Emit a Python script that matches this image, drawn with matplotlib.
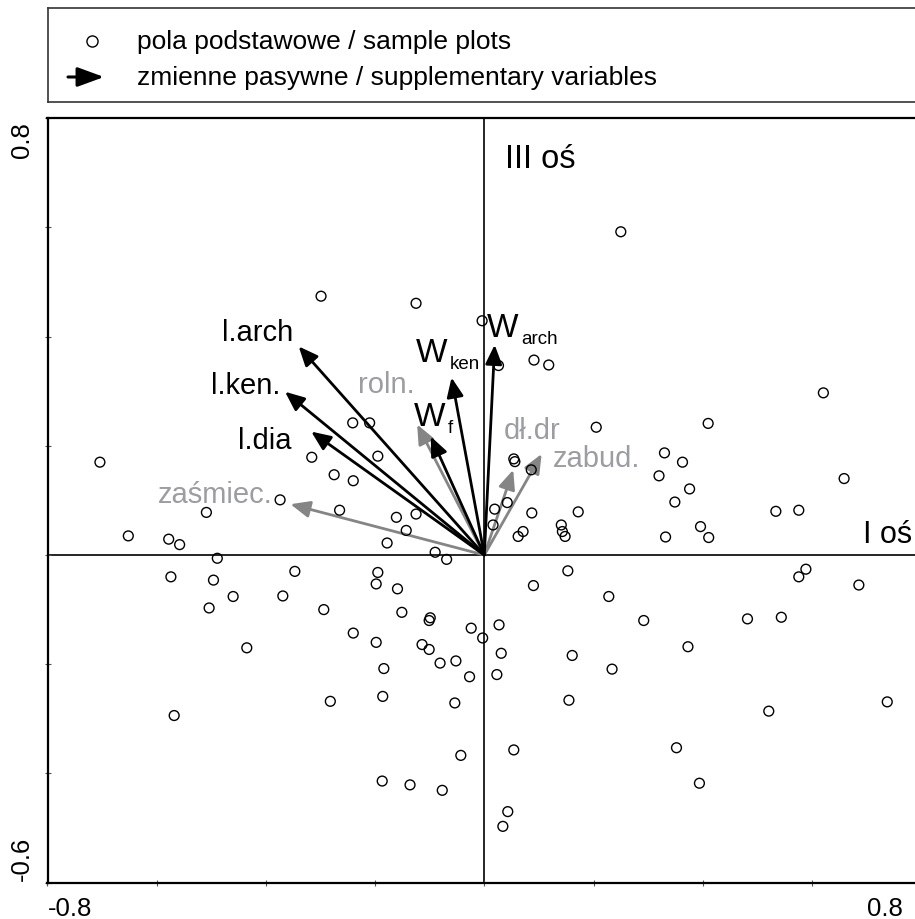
import numpy as np
import matplotlib.pyplot as plt

plt.rcParams['font.family'] = ['Liberation Sans', 'DejaVu Sans']

# sample plots: axis I (x) and axis III (y) scores
plot_x = [-0.299, -0.125, -0.004, -0.704, -0.241, -0.210, -0.316, -0.195, -0.275, -0.240,
          -0.374, -0.509, -0.265, -0.161, -0.125, -0.143, -0.652, -0.578, -0.558, -0.178,
          -0.090, -0.069, -0.489, -0.574, -0.496, -0.347, -0.460, -0.369, -0.504, -0.294,
          -0.195, -0.198, -0.159, -0.151, -0.099, -0.101, -0.024, -0.003, -0.435, -0.240,
          -0.198, -0.114, -0.101, -0.052, -0.081, -0.184, -0.027, -0.568, -0.282, -0.186,
          -0.054, -0.043, -0.187, -0.136, -0.077,
          0.250, 0.026, 0.091, 0.118, 0.621, 0.205, 0.410, 0.054, 0.056, 0.086,
          0.330, 0.363, 0.320, 0.376, 0.349, 0.659, 0.534, 0.576, 0.019, 0.042,
          0.087, 0.172, 0.016, 0.071, 0.062, 0.141, 0.143, 0.148, 0.332, 0.396,
          0.411, 0.153, 0.090, 0.228, 0.027, 0.292, 0.031, 0.161, 0.023, 0.234,
          0.373, 0.155, 0.054, 0.352, 0.394, 0.043, 0.034, 0.576, 0.589, 0.686,
          0.482, 0.544, 0.521, 0.738]
plot_y = [0.474, 0.461, 0.429, 0.170, 0.242, 0.242, 0.179, 0.181, 0.147, 0.136,
          0.101, 0.078, 0.082, 0.069, 0.075, 0.045, 0.035, 0.029, 0.019, 0.022,
          0.005, -0.008, -0.006, -0.040, -0.046, -0.030, -0.076, -0.075, -0.097, -0.100,
          -0.032, -0.053, -0.062, -0.105, -0.115, -0.120, -0.134, -0.152, -0.170, -0.143,
          -0.160, -0.164, -0.173, -0.194, -0.198, -0.208, -0.223, -0.294, -0.268, -0.259,
          -0.271, -0.367, -0.414, -0.421, -0.431,
          0.592, 0.347, 0.357, 0.348, 0.297, 0.234, 0.241, 0.176, 0.171, 0.156,
          0.187, 0.170, 0.145, 0.121, 0.097, 0.140, 0.080, 0.082, 0.084, 0.096,
          0.077, 0.079, 0.055, 0.043, 0.034, 0.055, 0.043, 0.034, 0.033, 0.052,
          0.032, -0.029, -0.056, -0.076, -0.128, -0.120, -0.180, -0.184, -0.219, -0.209,
          -0.168, -0.266, -0.357, -0.353, -0.418, -0.470, -0.497, -0.040, -0.026, -0.055,
          -0.117, -0.114, -0.286, -0.269]

# supplementary variables drawn in black
black_names = ['l.arch', 'l.ken.', 'l.dia', 'W_f', 'W_ken', 'W_arch']
black_x = [-0.340, -0.365, -0.317, -0.098, -0.060, 0.019]
black_y = [0.382, 0.299, 0.226, 0.217, 0.325, 0.385]

# supplementary variables drawn in grey
grey_names = ['zaśmiec.', 'roln.', 'dł.dr', 'zabud.']
grey_x = [-0.355, -0.123, 0.053, 0.105]
grey_y = [0.093, 0.239, 0.156, 0.185]

x_ticks = [-0.8, -0.6, -0.4, -0.2, 0.0, 0.2, 0.4, 0.6, 0.8]
y_ticks = [-0.6, -0.4, -0.2, 0.0, 0.2, 0.4, 0.6, 0.8]

# label offsets from arrow tips (points) and alignment
label_style = {
    'l.arch': (-4, 4.5, 'right'),
    'l.ken.': (-3, -1, 'right'),
    'l.dia': (-14.5, -12, 'right'),
    'zaśmiec.': (-13, 1.5, 'right'),
    'roln.': (-1.5, 23.5, 'right'),
    'W_f': (-12, 8.5, 'left'),
    'W_ken': (-26, 12, 'left'),
    'W_arch': (-5.5, 6.5, 'left'),
    'dł.dr': (-6.5, 23, 'left'),
    'zabud.': (8, -8.5, 'left'),
}

BLACK = '#000000'
GREY_ARROW = '#858585'
GREY_TEXT = '#9b9da2'

fig = plt.figure(figsize=(9.15, 9.2), dpi=100)
ax = fig.add_axes([47.5 / 915, 36.4 / 920, 873.6 / 915, 764.4 / 920])
ax.set_xlim(-0.8, 0.8)
ax.set_ylim(-0.6, 0.8)

ax.axhline(0, color='black', lw=1.2, zorder=1)
ax.axvline(0, color='black', lw=1.2, zorder=1)


def draw_arrow(x, y, color):
    ax.annotate('', xy=(x, y), xytext=(0, 0),
                arrowprops=dict(arrowstyle='-|>,head_length=0.65,head_width=0.28',
                                mutation_scale=18, lw=2.0, color=color,
                                shrinkA=0, shrinkB=0), zorder=2)


def draw_label(name, x, y, color):
    dx, dy, ha = label_style[name]
    if name.startswith('W_'):
        ax.annotate('W', xy=(x, y), xytext=(dx, dy), textcoords='offset points',
                    fontsize=24, ha='left', va='baseline', color=color)
        ax.annotate(name[2:], xy=(x, y), xytext=(dx + 24.5, dy - 5),
                    textcoords='offset points', fontsize=13.5, ha='left',
                    va='baseline', color=color)
    else:
        ax.annotate(name, xy=(x, y), xytext=(dx, dy), textcoords='offset points',
                    fontsize=21, ha=ha, va='baseline', color=color)


for name, x, y in zip(grey_names, grey_x, grey_y):
    draw_arrow(x, y, GREY_ARROW)
    draw_label(name, x, y, GREY_TEXT)
for name, x, y in zip(black_names, black_x, black_y):
    draw_arrow(x, y, BLACK)
    draw_label(name, x, y, BLACK)

ax.scatter(plot_x, plot_y, s=50, facecolors='none', edgecolors='black',
           linewidths=1.0, zorder=3)

ax.text(0.038, 0.711, 'III oś', fontsize=23.5, ha='left', va='baseline')
ax.text(0.693, 0.024, 'I oś', fontsize=22, ha='left', va='baseline')

# axes frame and ticks
for side in ['left', 'top', 'bottom', 'right']:
    ax.spines[side].set_linewidth(1.6)
ax.set_xticks(x_ticks)
ax.set_yticks(y_ticks)
ax.set_xticklabels([])
ax.set_yticklabels([])
ax.tick_params(direction='inout', length=4, width=0.8, color='#555555')

ax.annotate('-0.8', xy=(x_ticks[0], y_ticks[0]), xytext=(0, -10),
            textcoords='offset points', fontsize=18.5, ha='left', va='top',
            annotation_clip=False)
ax.annotate('0.8', xy=(x_ticks[-1], y_ticks[0]), xytext=(-13, -10),
            textcoords='offset points', fontsize=18.5, ha='right', va='top',
            annotation_clip=False)
ax.annotate('0.8', xy=(x_ticks[0], y_ticks[-1]), xytext=(-10, -2),
            textcoords='offset points', fontsize=18.5, ha='right', va='top',
            rotation=90, annotation_clip=False)
ax.annotate('-0.6', xy=(x_ticks[0], y_ticks[0]), xytext=(-10, 2),
            textcoords='offset points', fontsize=18.5, ha='right', va='bottom',
            rotation=90, annotation_clip=False)

# legend box
lg = fig.add_axes([48 / 915, (920 - 103) / 920, 878 / 915, 94 / 920])
lg.set_xlim(48, 926)
lg.set_ylim(103, 9)
lg.set_xticks([])
lg.set_yticks([])
for s in lg.spines.values():
    s.set_linewidth(1.2)
    s.set_color('#333333')
lg.plot([92], [42], 'o', ms=8, mfc='none', mec='black', mew=1.0)
lg.annotate('', xy=(104, 78), xytext=(68, 78),
            arrowprops=dict(arrowstyle='-|>,head_length=0.9,head_width=0.33',
                            mutation_scale=18, lw=2.2, color='black',
                            shrinkA=0, shrinkB=0))
lg.text(137, 42, 'pola podstawowe / sample plots', fontsize=19, va='center', ha='left')
lg.text(137, 78, 'zmienne pasywne / supplementary variables', fontsize=19,
        va='center', ha='left')

fig.savefig('out.png', dpi=100)
